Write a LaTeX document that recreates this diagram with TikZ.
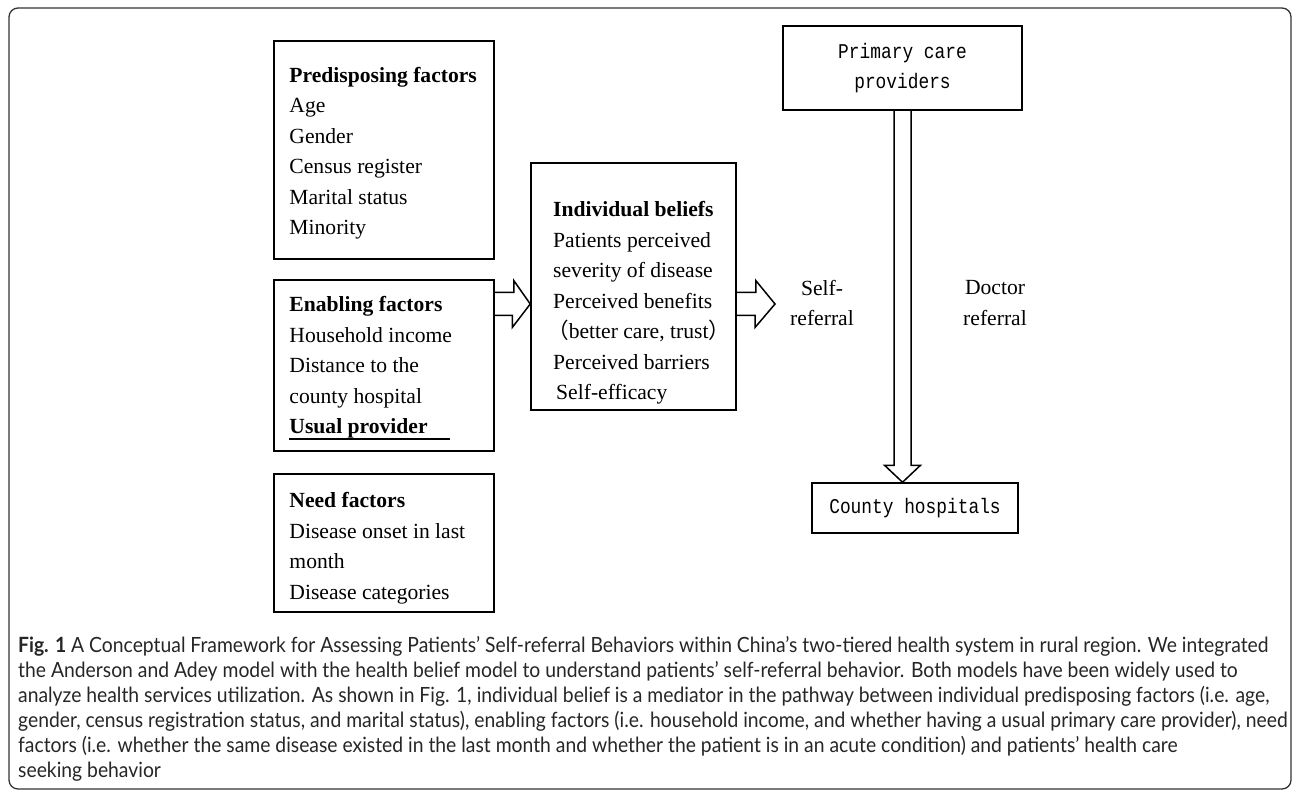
\documentclass[tikz,border=0pt]{standalone}
\usepackage{fontspec}
\setmainfont{Liberation Serif}
\newfontfamily\boxmono[FakeStretch=0.85]{Liberation Mono}
\newfontfamily\capfont[FakeStretch=0.92]{Lato}
\newfontfamily\cjk{Noto Sans CJK SC}
\usetikzlibrary{calc}
\tikzset{>=latex}
\tikzset{
    factorbox/.style={draw, line width=1.5pt, inner sep=0pt},
    boxtext/.style={font=\fontsize{21.6}{30.5}\selectfont, align=left, inner sep=0pt},
    monotext/.style={font=\boxmono\fontsize{21}{30}\selectfont, align=center, inner sep=0pt},
    fatarrow/.style={line width=1.5pt, line join=miter},
    capnode/.style={font=\capfont\fontsize{21}{25}\selectfont, align=left, inner sep=0pt, text=black!85}
}
\newcommand{\thickul}[2]{\smash{\rlap{\rule[-6.3pt]{#2}{2.6pt}}}#1}

\begin{document}
\begin{tikzpicture}[x=1pt,y=-1pt]
    \useasboundingbox (0,0) rectangle (1292,791);
    % frame
    \draw[line width=1.3pt, black!80, rounded corners=9pt] (9,8) rectangle (1291,789);

    % Factor boxes
    \node[factorbox, minimum width=220, minimum height=218] (pre) at (384,150) {};
    \node[boxtext, anchor=west] (pretxt) at ([xshift=16,yshift=-3]pre.west) {\textbf{Predisposing factors}\\Age\\Gender\\Census register\\Marital status\\Minority};

    \node[factorbox, minimum width=220, minimum height=171] (enab) at (384,365.5) {};
    \node[boxtext, anchor=west] (enabtxt) at ([xshift=16,yshift=-2]enab.west) {\textbf{Enabling factors}\\Household income\\Distance to the\\county hospital\\\thickul{\textbf{Usual provider}}{161pt}};

    \node[factorbox, minimum width=220, minimum height=138] (need) at (384,543) {};
    \node[boxtext, anchor=west] (needtxt) at ([xshift=16,yshift=-5]need.west) {\textbf{Need factors}\\Disease onset in last\\month\\Disease categories};

    % Beliefs
    \node[factorbox, minimum width=205, minimum height=247] (belief) at (633.5,286.5) {};
    \node[boxtext, anchor=west] (belieftxt) at (553,303) {\textbf{Individual beliefs}\\Patients perceived\\severity of disease\\Perceived benefits\\\hspace{-6pt}{\cjk （}better care, trust{\cjk ）}\\Perceived barriers\\\hspace{3pt}Self-efficacy};

    % Providers
    \node[factorbox, minimum width=239, minimum height=84] (prim) at (902.5,68) {};
    \node[monotext] (primtxt) at (prim.center) {Primary care\\providers};
    \node[factorbox, minimum width=206, minimum height=50] (county) at (915,508) {};
    \node[monotext] (countytxt) at (county.center) {County hospitals};

    % Block arrows
    \coordinate (ea) at (enab.east |- 0,304);
    \coordinate (eb) at (belief.west |- ea);
    \draw[fatarrow] ($(ea)+(0,-11.5)$) -- ++(19,0) -- ++(0,-12) -- (eb) -- ++(-18,23.5) -- ++(0,-12) -- ++(-19,0);

    \coordinate (ba) at (belief.east |- ea);
    \coordinate (selftip) at (775,304);
    \draw[fatarrow] ($(ba)+(0,-11.5)$) -- ++(19,0) -- ++(0,-12) -- (selftip) -- ++(-20,23.5) -- ++(0,-12) -- ++(-19,0);

    \coordinate (dt) at (prim.south |- county.north);
    \draw[fatarrow] ($(prim.south)+(-8.5,0)$) -- ($(dt)+(-8.5,-17)$) -- ++(-9.5,0) -- (dt) -- ++(18,-17) -- ++(-9.5,0) -- ($(prim.south)+(8.5,0)$);

    \node[boxtext, align=center] (selfref) at (822,303) {Self-\\referral};
    \node[boxtext, align=center] (docref) at (995,303) {Doctor\\referral};

    % Caption
    \node[capnode, anchor=north west] (cap) at (18,636) {\textbf{Fig. 1} A Conceptual Framework for Assessing Patients’ Self-referral Behaviors within China’s two-tiered health system in rural region. We integrated\\
    the Anderson and Adey model with the health belief model to understand patients’ self-referral behavior. Both models have been widely used to\\
    analyze health services utilization. As shown in Fig. 1, individual belief is a mediator in the pathway between individual predisposing factors (i.e. age,\\
    gender, census registration status, and marital status), enabling factors (i.e. household income, and whether having a usual primary care provider), need\\
    factors (i.e. whether the same disease existed in the last month and whether the patient is in an acute condition) and patients’ health care\\
    seeking behavior};
\end{tikzpicture}
\end{document}
